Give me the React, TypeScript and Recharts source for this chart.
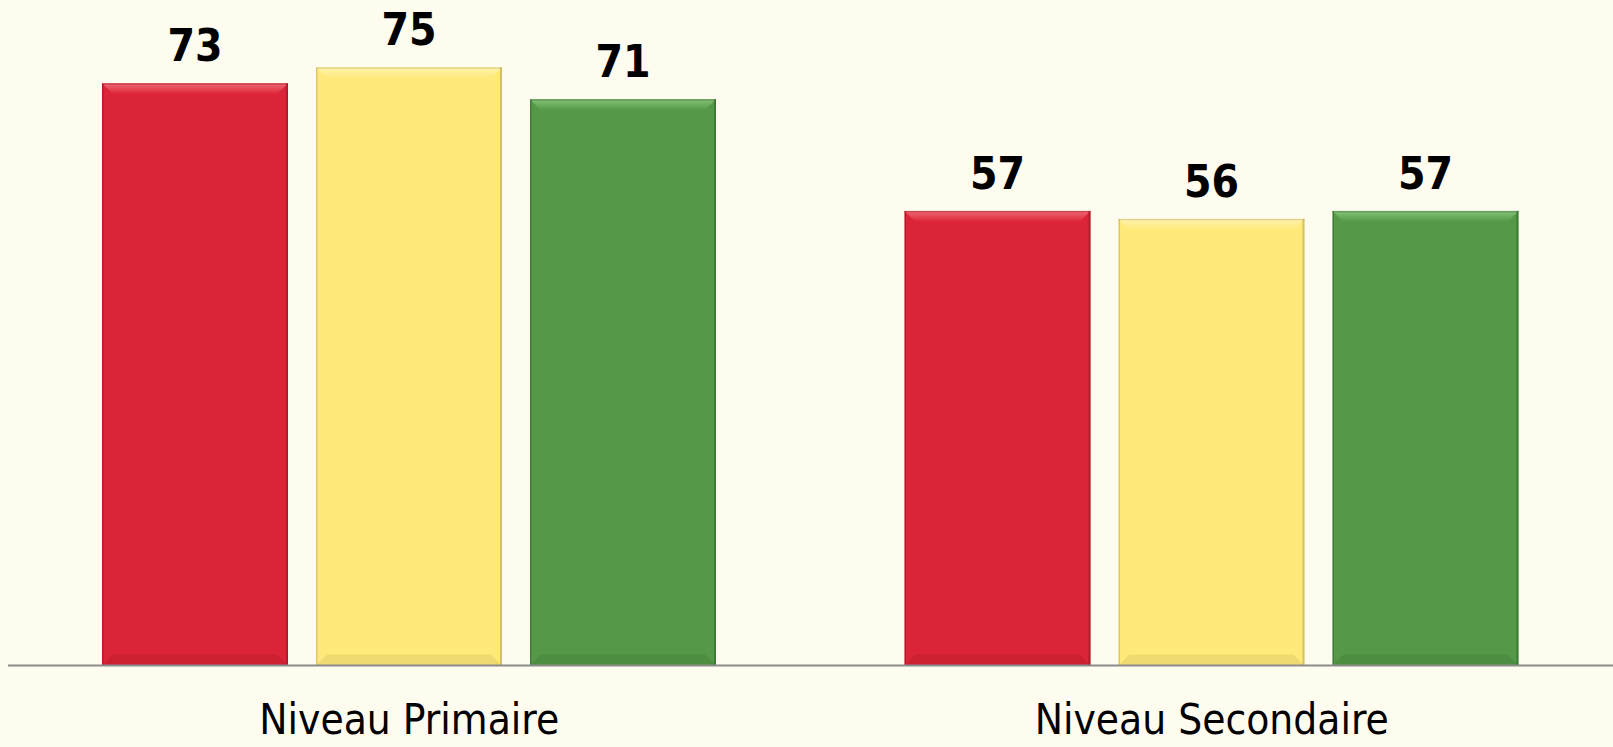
import React from "react";
import { BarChart, Bar, XAxis, YAxis, LabelList } from "recharts";

const categories = ["Niveau Primaire", "Niveau Secondaire"];
const seriesA = [73, 57];
const seriesB = [75, 56];
const seriesC = [71, 57];

const data = categories.map((c, i) => ({ name: c, a: seriesA[i], b: seriesB[i], c: seriesC[i] }));

const FONT = "'Liberation Sans Narrow', 'DejaVu Sans Condensed', 'Open Sans', sans-serif";

function makeShape(id: string, base: string, light: string, dark: string) {
  return (props: any) => {
    const { x, y, width, height } = props;
    if (!height || height <= 0) return null;
    const b = 11;
    return (
      <g>
        <defs>
          <linearGradient id={`top-${id}`} x1="0" y1="0" x2="0" y2="1">
            <stop offset="0%" stopColor={light} />
            <stop offset="100%" stopColor={base} />
          </linearGradient>
        </defs>
        <rect x={x} y={y} width={width} height={height} fill={base} />
        <polygon points={`${x},${y} ${x + width},${y} ${x + width - b},${y + b} ${x + b},${y + b}`} fill={`url(#top-${id})`} />
        <rect x={x} y={y} width={1.5} height={height} fill={dark} opacity={0.45} />
        <rect x={x + width - 2} y={y} width={2} height={height} fill={dark} opacity={0.55} />
        <rect x={x} y={y} width={width} height={1.5} fill={dark} opacity={0.35} />
        <polygon points={`${x},${y + height} ${x + width},${y + height} ${x + width - b},${y + height - b} ${x + b},${y + height - b}`} fill={dark} opacity={0.2} />
      </g>
    );
  };
}

const renderLabel = (props: any) => {
  const { x, y, width, value } = props;
  return (
    <text x={x + width / 2} y={y - 22} textAnchor="middle" fontFamily={FONT} fontWeight="bold" fontSize={44} fill="#000">
      {value}
    </text>
  );
};

const renderTick = (props: any) => {
  const { x, y, payload } = props;
  return (
    <text x={x} y={y + 68} textAnchor="middle" fontFamily={FONT} fontSize={42} fill="#000">
      {payload.value}
    </text>
  );
};

export default function App() {
  return (
    <div style={{ position: "fixed", left: 0, top: 0, width: 1613, height: 747, background: "#FEFBEF" }}>
      <BarChart
        width={1613}
        height={747}
        data={data}
        margin={{ top: 27.5, right: 0, left: 8, bottom: 51.5 }}
        barSize={186}
        barGap={28}
      >
        <XAxis
          dataKey="name"
          height={30}
          tickLine={false}
          tickSize={0}
          tickMargin={0}
          axisLine={{ stroke: "#8C8C8C", strokeWidth: 2 }}
          tick={renderTick}
          interval={0}
        />
        <YAxis hide domain={[0, 80]} />
        <Bar dataKey="a" fill="#DC2438" isAnimationActive={false} shape={makeShape("a", "#DC2438", "#F06A75", "#8A1520")}>
          <LabelList dataKey="a" content={renderLabel} />
        </Bar>
        <Bar dataKey="b" fill="#FFE97A" isAnimationActive={false} shape={makeShape("b", "#FFE97A", "#FFF3B0", "#B0A050")}>
          <LabelList dataKey="b" content={renderLabel} />
        </Bar>
        <Bar dataKey="c" fill="#549947" isAnimationActive={false} shape={makeShape("c", "#549947", "#86C27A", "#2E5E27")}>
          <LabelList dataKey="c" content={renderLabel} />
        </Bar>
      </BarChart>
    </div>
  );
}
